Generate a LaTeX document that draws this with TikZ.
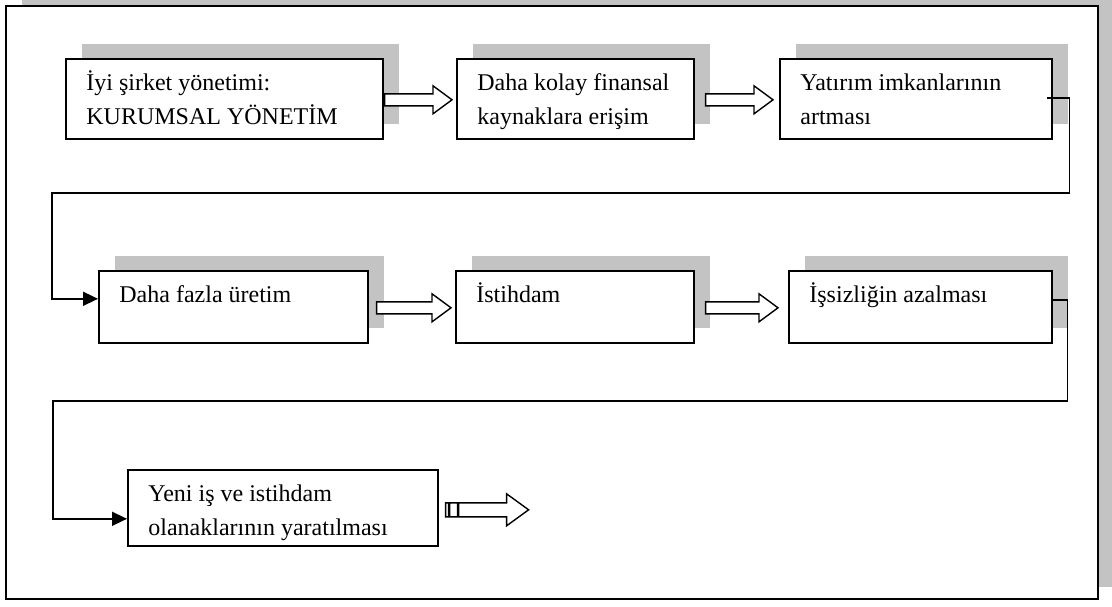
\documentclass[tikz,border=0pt]{standalone}
\usepackage{fontspec}
\setmainfont{Liberation Serif}
\usetikzlibrary{shadows,calc,arrows.meta}

\definecolor{shadegray}{RGB}{195,195,195}

% hollow block arrow between two boxes: from, to, gap at start, gap at end
\newcommand{\blockarrow}[4]{%
  \draw[blockarrow] let \p1=($(#1.east)+(#3,1)$), \p2=($(#2.west)+(-#4,1)$) in
    (\x1,\y1+3pt) -- (\x2-9.5pt,\y1+3pt) -- (\x2-9.5pt,\y1+7pt) -- (\x2,\y1)
    -- (\x2-9.5pt,\y1-7pt) -- (\x2-9.5pt,\y1-3pt) -- (\x1,\y1-3pt) -- cycle;}

\tikzset{
  box/.style={draw, line width=0.8pt, fill=white, inner sep=0pt, anchor=north west,
    drop shadow={shadow xshift=8pt, shadow yshift=7.5pt, fill=shadegray, opacity=1}},
  plainbox/.style={draw, line width=0.8pt, fill=white, inner sep=0pt, anchor=north west},
  boxtext/.style={anchor=north west, inner sep=0pt, align=left, xshift=10.5pt, yshift=-4.1pt,
    font=\fontsize{12}{17}\selectfont},
  link/.style={line width=0.8pt, -{Triangle[length=7.5pt,width=7pt]}},
  blockarrow/.style={draw, line width=0.7pt, fill=white},
}

\begin{document}
\begin{tikzpicture}[x=0.5pt, y=-0.5pt]
\useasboundingbox (0,0) rectangle (1112,606);
\clip (0,0) rectangle (1112,606);

% frame with its shadow
\fill[shadegray] (22,-10) rectangle (1114,587);
\draw[line width=1.1pt, fill=white] (6,6) rectangle (1098,599);

% first row
\node[box, minimum width=158.5pt, minimum height=40pt,
  label={[boxtext]north west:{\strut İyi şirket yönetimi:\\KURUMSAL YÖNETİM}}] (b1) at (65,58) {};
\node[box, minimum width=118.5pt, minimum height=40pt,
  label={[boxtext]north west:{\strut Daha kolay finansal\\kaynaklara erişim}}] (b2) at (456,58) {};
\node[box, minimum width=136pt, minimum height=40pt,
  label={[boxtext]north west:{\strut Yatırım imkanlarının\\artması}}] (b3) at (779,58) {};

% second row
\node[box, minimum width=134.5pt, minimum height=36pt,
  label={[boxtext]north west:{\strut Daha fazla üretim}}] (b4) at (98,270) {};
\node[box, minimum width=119pt, minimum height=36pt,
  label={[boxtext]north west:{\strut İstihdam}}] (b5) at (455,270) {};
\node[box, minimum width=131.5pt, minimum height=36pt,
  label={[boxtext]north west:{\strut İşsizliğin azalması}}] (b6) at (788,270) {};

% third row
\node[plainbox, minimum width=155pt, minimum height=38pt,
  label={[boxtext]north west:{\strut Yeni iş ve istihdam\\olanaklarının yaratılması}}] (b7) at (127,469) {};

% block arrows
\blockarrow{b1}{b2}{1}{4}
\blockarrow{b2}{b3}{11}{6}
\blockarrow{b4}{b5}{8}{4}
\blockarrow{b5}{b6}{11}{10}

% striped arrow after the last box
\draw[blockarrow] let \p1=($(b7.east)+(7,2)$) in
  (\x1,\y1+3.5pt) rectangle (\x1+1.5pt,\y1-3.5pt)
  (\x1+2pt,\y1+3.5pt) rectangle (\x1+6pt,\y1-3.5pt)
  (\x1+6.5pt,\y1+3.5pt) -- (\x1+30.5pt,\y1+3.5pt) -- (\x1+30.5pt,\y1+8pt) -- (\x1+41.5pt,\y1)
  -- (\x1+30.5pt,\y1-8pt) -- (\x1+30.5pt,\y1-3.5pt) -- (\x1+6.5pt,\y1-3.5pt) -- cycle;

% row changes
\draw[link] ($(b3.east)+(-6,-1)$) -| ($(b3.east)+(17,94)$) -| ($(b4.west)+(-46,-8)$) -- ($(b4.west)+(0,-8)$);
\draw[link] ($(b6.east)+(0,-7)$) -| ($(b6.east)+(15,94)$) -| ($(b7.west)+(-74,11)$) -- ($(b7.west)+(0,11)$);
\end{tikzpicture}
\end{document}
